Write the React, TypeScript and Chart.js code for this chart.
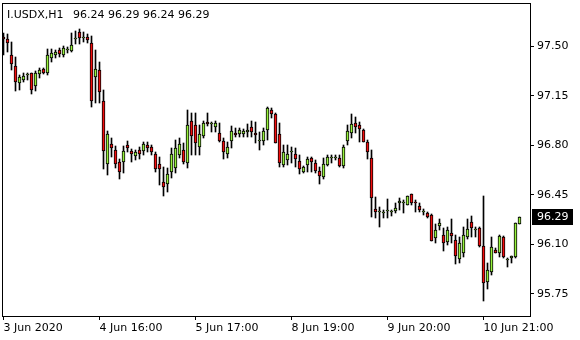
import React, { useEffect, useRef } from "react";
import { Chart, registerables } from "chart.js";

Chart.register(...registerables);

const symbolLabel = "I.USDX,H1";

const opens = [
  97.569, 97.551, 97.438, 97.36, 97.242, 97.261, 97.3, 97.311, 97.222, 97.302,
  97.337, 97.309, 97.417, 97.435, 97.476, 97.435, 97.473, 97.47, 97.553, 97.601,
  97.562, 97.569, 97.521, 97.285, 97.332, 97.113, 96.665, 96.809, 96.766, 96.679,
  96.679, 96.802, 96.759, 96.726, 96.766, 96.761, 96.802, 96.785, 96.736, 96.665,
  96.542, 96.524, 96.613, 96.637, 96.731, 96.766, 96.676, 96.971, 96.943, 96.785,
  96.867, 96.966, 96.947, 96.927, 96.884, 96.83, 96.738, 96.832, 96.889, 96.877,
  96.877, 96.896, 96.927, 96.889, 96.832, 96.832, 96.908, 97.049, 97.021, 96.877,
  96.66, 96.696, 96.75, 96.738, 96.688, 96.613, 96.66, 96.708, 96.676, 96.618,
  96.573, 96.66, 96.712, 96.712, 96.708, 96.653, 96.832, 96.884, 96.955, 96.943,
  96.908, 96.825, 96.708, 96.349, 96.33, 96.323, 96.335, 96.326, 96.335, 96.389,
  96.394, 96.377, 96.453, 96.401, 96.372, 96.326, 96.319, 96.307, 96.146, 96.229,
  96.165, 96.113, 96.181, 96.13, 95.993, 96.036, 96.153, 96.255, 96.198, 96.212,
  96.087, 95.835, 95.901, 96.059, 96.036, 96.149, 95.986, 96.005, 96.007, 96.24,
];
const highs = [
  97.594, 97.587, 97.528, 97.424, 97.297, 97.309, 97.313, 97.313, 97.328, 97.346,
  97.346, 97.481, 97.481, 97.473, 97.488, 97.502, 97.497, 97.594, 97.608, 97.624,
  97.601, 97.587, 97.573, 97.473, 97.389, 97.191, 96.901, 96.849, 96.797, 96.703,
  96.797, 96.83, 96.773, 96.766, 96.79, 96.821, 96.825, 96.802, 96.754, 96.719,
  96.648, 96.637, 96.778, 96.837, 96.849, 96.814, 97.049, 97.026, 97.026, 96.943,
  96.971, 97.026, 96.966, 96.973, 96.955, 96.849, 96.825, 96.936, 96.92, 96.923,
  96.913, 96.95, 96.973, 96.966, 96.896, 96.92, 97.072, 97.061, 97.026, 96.955,
  96.802, 96.802, 96.79, 96.778, 96.731, 96.653, 96.719, 96.719, 96.696, 96.648,
  96.708, 96.731, 96.731, 96.731, 96.731, 96.802, 96.943, 97.021, 96.998, 96.966,
  96.913, 96.837, 96.766, 96.436, 96.365, 96.342, 96.418, 96.342, 96.389, 96.425,
  96.413, 96.443, 96.455, 96.413, 96.394, 96.347, 96.33, 96.314, 96.243, 96.276,
  96.212, 96.224, 96.276, 96.165, 96.149, 96.224, 96.276, 96.299, 96.224, 96.224,
  96.441, 95.965, 96.153, 96.071, 96.165, 96.158, 96.0, 96.017, 96.252, 96.29,
];
const lows = [
  97.438, 97.459, 97.332, 97.183, 97.191, 97.247, 97.261, 97.162, 97.183, 97.273,
  97.304, 97.297, 97.391, 97.417, 97.426, 97.426, 97.45, 97.459, 97.516, 97.519,
  97.53, 97.521, 97.072, 97.097, 97.097, 96.632, 96.589, 96.719, 96.637, 96.561,
  96.601, 96.754, 96.679, 96.696, 96.703, 96.731, 96.754, 96.731, 96.613, 96.519,
  96.443, 96.471, 96.566, 96.601, 96.708, 96.667, 96.637, 96.731, 96.731, 96.731,
  96.849, 96.936, 96.896, 96.896, 96.825, 96.703, 96.708, 96.778, 96.856, 96.86,
  96.86, 96.86, 96.856, 96.814, 96.766, 96.802, 96.837, 96.99, 96.818, 96.644,
  96.648, 96.66, 96.672, 96.648, 96.597, 96.606, 96.613, 96.613, 96.601, 96.526,
  96.559, 96.653, 96.676, 96.696, 96.648, 96.637, 96.802, 96.849, 96.884, 96.825,
  96.825, 96.7, 96.295, 96.283, 96.224, 96.283, 96.283, 96.299, 96.319, 96.342,
  96.319, 96.377, 96.377, 96.326, 96.326, 96.307, 96.283, 96.125, 96.106, 96.201,
  96.054, 96.094, 96.106, 95.96, 95.969, 96.007, 96.137, 96.153, 96.153, 96.082,
  95.701, 95.781, 95.882, 96.036, 96.007, 96.0, 95.941, 95.965, 96.005, 96.24,
];
const closes = [
  97.551, 97.521, 97.372, 97.249, 97.285, 97.29, 97.304, 97.191, 97.311, 97.332,
  97.309, 97.438, 97.456, 97.463, 97.443, 97.485, 97.478, 97.509, 97.556, 97.558,
  97.564, 97.546, 97.113, 97.339, 97.179, 96.759, 96.877, 96.778, 96.665, 96.609,
  96.759, 96.778, 96.736, 96.754, 96.736, 96.809, 96.778, 96.754, 96.632, 96.632,
  96.507, 96.597, 96.736, 96.778, 96.809, 96.679, 96.943, 96.867, 96.818, 96.879,
  96.955, 96.95, 96.95, 96.955, 96.83, 96.754, 96.785, 96.903, 96.872, 96.908,
  96.901, 96.908, 96.891, 96.872, 96.835, 96.901, 97.061, 97.021, 96.818, 96.676,
  96.754, 96.738, 96.754, 96.7, 96.63, 96.644, 96.7, 96.684, 96.62, 96.585,
  96.667, 96.715, 96.715, 96.715, 96.653, 96.785, 96.901, 96.95, 96.927, 96.915,
  96.825, 96.754, 96.425, 96.33, 96.333, 96.326, 96.337, 96.328, 96.354, 96.406,
  96.396, 96.443, 96.389, 96.389, 96.342, 96.328, 96.295, 96.125, 96.201, 96.252,
  96.106, 96.201, 96.16, 96.019, 96.106, 96.165, 96.205, 96.212, 96.201, 96.087,
  95.824, 95.918, 96.078, 96.04, 96.158, 96.007, 95.988, 96.017, 96.248, 96.29,
];

const xTickIndex = [0, 24, 48, 72, 96, 120];
const xTickLabels = ["3 Jun 2020", "4 Jun 16:00", "5 Jun 17:00", "8 Jun 19:00", "9 Jun 20:00", "10 Jun 21:00"];
const yTicks = [95.75, 96.1, 96.45, 96.8, 97.15, 97.5];

const Y_MIN = 95.5926;
const Y_MAX = 97.7991;
const X_MIN = -0.125;
const X_MAX = 131.625;

const BULL = "#96F23C";
const BEAR = "#F20D0D";
const FONT = "DejaVu Sans";

const framePlugin = {
  id: "frame",
  beforeDatasetsDraw(chart: any) {
    const { ctx, chartArea } = chart;
    const { left, top, right, bottom } = chartArea;
    ctx.save();
    ctx.strokeStyle = "#000";
    ctx.lineWidth = 1;
    ctx.strokeRect(left - 0.5, top - 0.5, right - left + 1, bottom - top + 1);
    ctx.restore();
    // snap candle ends to whole pixels so outlines stay crisp
    chart.data.datasets.forEach((_d: any, di: number) => {
      const meta = chart.getDatasetMeta(di);
      meta.data.forEach((el: any) => {
        const a = Math.round(Math.min(el.y, el.base));
        let b = Math.round(Math.max(el.y, el.base));
        if (b - a < 1) b = a + 1;
        el.y = a;
        el.base = b;
        el.height = b - a;
      });
    });
  },
};

const overlayPlugin = {
  id: "overlay",
  afterDraw(chart: any) {
    const { ctx, chartArea, scales } = chart;
    const n = closes.length - 1;
    ctx.save();
    ctx.font = `11px "${FONT}"`;
    ctx.fillStyle = "#000";
    ctx.textBaseline = "alphabetic";
    ctx.textAlign = "left";
    ctx.fillText(symbolLabel, chartArea.left + 4, chartArea.top + 14);
    const ohlc = `${opens[n].toFixed(2)} ${highs[n].toFixed(2)} ${lows[n].toFixed(2)} ${closes[n].toFixed(2)}`;
    ctx.fillText(ohlc, chartArea.left + 70, chartArea.top + 14);

    const y = Math.round(scales.y.getPixelForValue(closes[n]));
    ctx.fillStyle = "#000";
    ctx.fillRect(chartArea.right + 2, y - 8, 41, 16);
    ctx.fillStyle = "#fff";
    ctx.textBaseline = "middle";
    ctx.fillText(closes[n].toFixed(2), chartArea.right + 7, y);
    ctx.restore();
  },
};

export default function App() {
  const ref = useRef<HTMLCanvasElement | null>(null);

  useEffect(() => {
    if (!ref.current) return;
    const bodies = opens.map((o, i) => ({ x: i, y: [o, closes[i]] }));
    const wicks = lows.map((l, i) => ({ x: i, y: [l, highs[i]] }));
    const bodyColors = opens.map((o, i) => (closes[i] >= o ? BULL : BEAR));

    const axisGrid = {
      display: true,
      drawOnChartArea: false,
      drawTicks: true,
      tickLength: 4,
      color: "#000",
      lineWidth: 1,
      offset: false,
    };

    const chart = new Chart(ref.current, {
      type: "bar",
      data: {
        datasets: [
          {
            label: "body",
            data: bodies as any,
            backgroundColor: bodyColors,
            borderColor: "#000",
            borderWidth: 1,
            borderSkipped: false,
            barThickness: 3,
            minBarLength: 1,
            grouped: false,
            order: 0,
          } as any,
          {
            label: "wick",
            data: wicks as any,
            backgroundColor: "#000",
            borderWidth: 0,
            barThickness: 1,
            grouped: false,
            order: 1,
          } as any,
        ],
      },
      options: {
        animation: false,
        responsive: false,
        devicePixelRatio: 1,
        events: [],
        layout: { padding: { left: 3, top: 4, right: 0, bottom: 0 } },
        plugins: {
          legend: { display: false },
          tooltip: { enabled: false },
          title: { display: false },
        },
        scales: {
          x: {
            type: "linear",
            position: "bottom",
            offset: false,
            min: X_MIN,
            max: X_MAX,
            grid: axisGrid,
            border: { display: false },
            ticks: {
              autoSkip: false,
              maxRotation: 0,
              minRotation: 0,
              align: "start",
              padding: 2,
              color: "#000",
              font: { family: FONT, size: 11 },
              callback: (_v: any, i: number) => xTickLabels[i],
            },
            afterBuildTicks: (s: any) => {
              s.ticks = xTickIndex.map((v) => ({ value: v }));
            },
            afterFit: (s: any) => {
              s.height = 24;
              s.paddingLeft = 0;
              s.paddingRight = 0;
            },
          } as any,
          y: {
            type: "linear",
            position: "right",
            min: Y_MIN,
            max: Y_MAX,
            grid: axisGrid,
            border: { display: false },
            ticks: {
              padding: 3,
              color: "#000",
              font: { family: FONT, size: 11 },
              callback: (v: any) => Number(v).toFixed(2),
            },
            afterBuildTicks: (s: any) => {
              s.ticks = yTicks.map((v) => ({ value: v }));
            },
            afterFit: (s: any) => {
              s.width = 50;
              s.paddingTop = 0;
              s.paddingBottom = 0;
            },
          } as any,
        },
      },
      plugins: [framePlugin, overlayPlugin],
    });
    return () => chart.destroy();
  }, []);

  return (
    <div style={{ position: "fixed", left: 0, top: 0, width: 580, height: 340, background: "#fff" }}>
      <canvas ref={ref} width={580} height={340} style={{ display: "block" }} />
    </div>
  );
}
